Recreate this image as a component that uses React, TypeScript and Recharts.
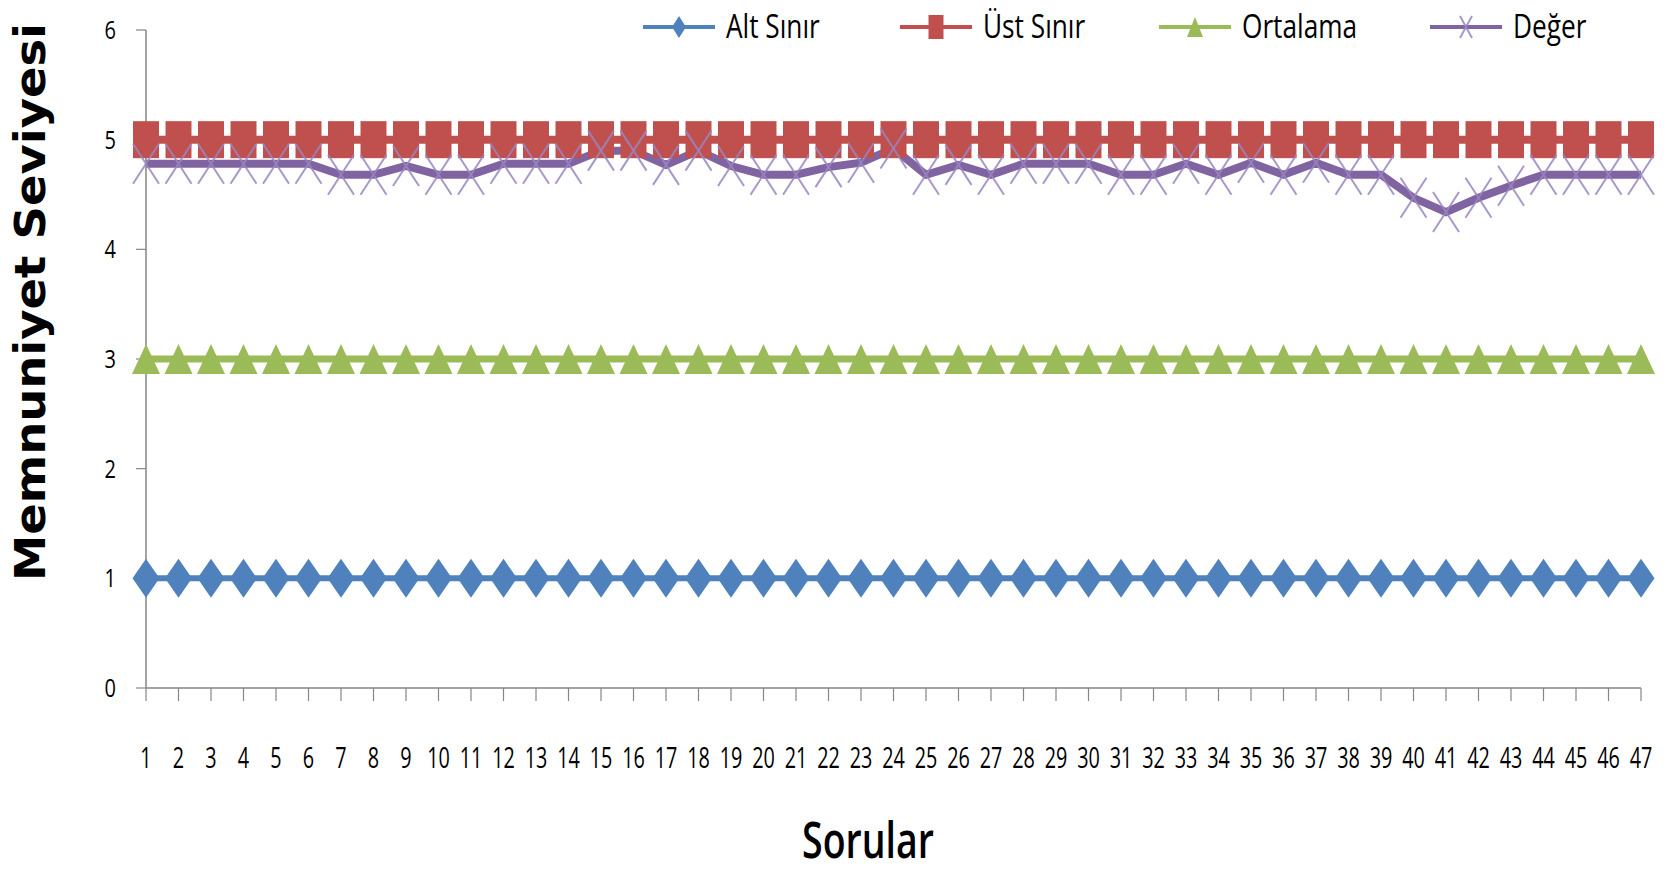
import React from 'react';
import { LineChart, Line, XAxis, YAxis, Label } from 'recharts';

const QUESTIONS = [
  '1', '2', '3', '4', '5', '6', '7', '8', '9', '10', '11', '12', '13', '14', '15', '16',
  '17', '18', '19', '20', '21', '22', '23', '24', '25', '26', '27', '28', '29', '30', '31',
  '32', '33', '34', '35', '36', '37', '38', '39', '40', '41', '42', '43', '44', '45', '46', '47',
];
const ALT_SINIR = [
  1, 1, 1, 1, 1, 1, 1, 1, 1, 1, 1, 1, 1, 1, 1, 1, 1, 1, 1, 1, 1, 1, 1, 1,
  1, 1, 1, 1, 1, 1, 1, 1, 1, 1, 1, 1, 1, 1, 1, 1, 1, 1, 1, 1, 1, 1, 1,
];
const UST_SINIR = [
  5, 5, 5, 5, 5, 5, 5, 5, 5, 5, 5, 5, 5, 5, 5, 5, 5, 5, 5, 5, 5, 5, 5, 5,
  5, 5, 5, 5, 5, 5, 5, 5, 5, 5, 5, 5, 5, 5, 5, 5, 5, 5, 5, 5, 5, 5, 5,
];
const ORTALAMA = [
  3, 3, 3, 3, 3, 3, 3, 3, 3, 3, 3, 3, 3, 3, 3, 3, 3, 3, 3, 3, 3, 3, 3, 3,
  3, 3, 3, 3, 3, 3, 3, 3, 3, 3, 3, 3, 3, 3, 3, 3, 3, 3, 3, 3, 3, 3, 3,
];
const DEGER = [
  4.78, 4.78, 4.78, 4.78, 4.78, 4.78, 4.68, 4.68, 4.76, 4.68, 4.68, 4.78, 4.78, 4.78, 4.9, 4.9,
  4.77, 4.9, 4.76, 4.68, 4.68, 4.75, 4.79, 4.92, 4.68, 4.77, 4.68, 4.78, 4.78, 4.78, 4.68,
  4.68, 4.78, 4.68, 4.79, 4.68, 4.79, 4.68, 4.68, 4.47, 4.34, 4.47, 4.58, 4.68, 4.68, 4.68, 4.68,
];
const Y_TICKS = [0, 1, 2, 3, 4, 5, 6];

const BLUE = '#4F81BD';
const RED = '#C0504D';
const GREEN = '#9BBB59';
const PURPLE = '#8064A2';
const AXIS = '#868686';
const FONT = '"Open Sans", "Noto Sans", sans-serif';

const data = QUESTIONS.map((q, i) => ({
  q, alt: ALT_SINIR[i], ust: UST_SINIR[i], ort: ORTALAMA[i], deger: DEGER[i],
}));

// squished text, Excel export looks horizontally compressed
const Narrow = ({ x, y, sx, children, ...rest }) => (
  <text transform={`translate(${x},${y}) scale(${sx},1)`} fontFamily={FONT} fill="#000" {...rest}>
    {children}
  </text>
);

const Diamond = ({ cx, cy, w = 27, h = 39 }) => (
  <polygon points={`${cx},${cy - h / 2} ${cx + w / 2},${cy} ${cx},${cy + h / 2} ${cx - w / 2},${cy}`} fill={BLUE} />
);
const Square = ({ cx, cy, w = 26, h = 37 }) => (
  <rect x={cx - w / 2} y={cy - h / 2} width={w} height={h} fill={RED} />
);
const Triangle = ({ cx, cy, w = 28, h = 30 }) => (
  <polygon points={`${cx},${cy - h / 2} ${cx + w / 2},${cy + h / 2} ${cx - w / 2},${cy + h / 2}`} fill={GREEN} />
);
const Cross = ({ cx, cy, w = 26, h = 40 }) => (
  <g stroke="#9A86C2" strokeWidth={2} opacity={0.85}>
    <line x1={cx - w / 2} y1={cy - h / 2} x2={cx + w / 2} y2={cy + h / 2} />
    <line x1={cx - w / 2} y1={cy + h / 2} x2={cx + w / 2} y2={cy - h / 2} />
  </g>
);

const XTick = ({ x, payload }) => (
  <Narrow x={x} y={768} sx={0.66} fontSize={30} textAnchor="middle">{payload.value}</Narrow>
);
const YTick = ({ y, payload }) => (
  <Narrow x={116} y={y + 9} sx={0.8} fontSize={25} textAnchor="end">{payload.value}</Narrow>
);

const LEGEND = [
  { name: 'Alt Sınır', color: BLUE, x: 643, Icon: Diamond, w: 14, h: 22 },
  { name: 'Üst Sınır', color: RED, x: 900, Icon: Square, w: 15, h: 24 },
  { name: 'Ortalama', color: GREEN, x: 1159, Icon: Triangle, w: 16, h: 20 },
  { name: 'Değer', color: PURPLE, x: 1430, Icon: Cross, w: 12, h: 22 },
];

export default function App() {
  return (
    <div style={{ position: 'absolute', left: 0, top: 0, width: 1671, height: 873, background: '#fff' }}>
      <LineChart width={1671} height={873} data={data} margin={{ top: 30, right: 30, left: 0, bottom: 0 }}>
        <XAxis
          dataKey="q" height={185} interval={0}
          axisLine={{ stroke: AXIS, strokeWidth: 1.5 }}
          tickLine={{ stroke: AXIS, strokeWidth: 1.2 }} tickSize={13}
          tick={<XTick />}
        >
          <Label content={() => (
            <text x={868} y={858} textAnchor="middle" fontFamily={FONT} fontSize={50} fontWeight={600}
              textLength={132} lengthAdjust="spacingAndGlyphs" fill="#000">Sorular</text>
          )} />
        </XAxis>
        <YAxis
          width={146} domain={[0, 6]} ticks={Y_TICKS} interval={0}
          axisLine={{ stroke: AXIS, strokeWidth: 1.5 }}
          tickLine={{ stroke: AXIS, strokeWidth: 1.2 }} tickSize={10}
          tick={<YTick />}
        >
          <Label content={() => (
            <text x={45} y={302} transform="rotate(-90, 45, 302)" textAnchor="middle"
              fontFamily='"DejaVu Sans", sans-serif' fontWeight="bold" fontSize={43}
              textLength={558} lengthAdjust="spacingAndGlyphs" fill="#000">Memnuniyet Seviyesi</text>
          )} />
        </YAxis>
        <Line dataKey="alt" stroke={BLUE} strokeWidth={6} isAnimationActive={false}
          dot={(p) => <Diamond key={p.index} cx={p.cx} cy={p.cy} />} activeDot={false} />
        <Line dataKey="ust" stroke={RED} strokeWidth={8} isAnimationActive={false}
          dot={(p) => <Square key={p.index} cx={p.cx} cy={p.cy} />} activeDot={false} />
        <Line dataKey="ort" stroke={GREEN} strokeWidth={7} isAnimationActive={false}
          dot={(p) => <Triangle key={p.index} cx={p.cx} cy={p.cy} />} activeDot={false} />
        <Line dataKey="deger" stroke={PURPLE} strokeWidth={8} isAnimationActive={false}
          dot={(p) => <Cross key={p.index} cx={p.cx} cy={p.cy} />} activeDot={false} />
      </LineChart>
      <svg width={1671} height={60} style={{ position: 'absolute', left: 0, top: 0 }}>
        {LEGEND.map(({ name, color, x, Icon, w, h }) => (
          <g key={name}>
            <line x1={x} y1={27} x2={x + 72} y2={27} stroke={color} strokeWidth={4} />
            <Icon cx={x + 36} cy={27} w={w} h={h} />
            <Narrow x={x + 83} y={38} sx={0.82} fontSize={32}>{name}</Narrow>
          </g>
        ))}
      </svg>
    </div>
  );
}
